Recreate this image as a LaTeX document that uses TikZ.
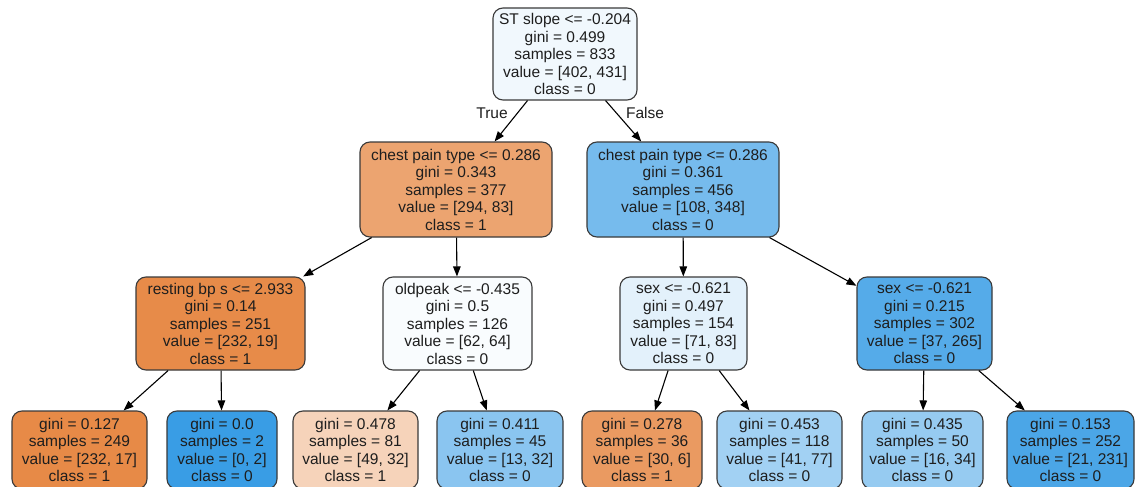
\documentclass[tikz,border=0pt]{standalone}
\usepackage{fontspec}
\setmainfont{Liberation Sans}
\usetikzlibrary{arrows.meta}
\definecolor{cO}{HTML}{E58139}
\definecolor{cB}{HTML}{399DE5}
\definecolor{txt}{HTML}{1E1E1E}
\definecolor{bord}{HTML}{3A3A3A}
\tikzset{
  tnode/.style={draw=bord, line width=1.1pt, rounded corners=10pt, align=center,
    inner sep=0pt, text=txt, font=\fontsize{15.5}{17.5}\selectfont, minimum height=93pt},
  leaf/.style={tnode, minimum height=78pt},
  edge/.style={line width=1.1pt, -{Triangle[length=10pt,width=7.5pt]}},
  elabel/.style={text=txt, font=\fontsize{15.5}{17.5}\selectfont}
}
\begin{document}
\begin{tikzpicture}[x=1pt,y=-1pt]
\useasboundingbox[fill=white] (0,0) rectangle (1135,487);
% level 0
\node[tnode, fill=cB!7!white, minimum width=144pt, minimum height=92pt] (root) at (565,54)
  {ST slope <= -0.204\\gini = 0.499\\samples = 833\\value = [402, 431]\\class = 0};
% level 1
\node[tnode, fill=cO!72!white, minimum width=192pt, minimum height=95pt] (cl) at (456,189.5)
  {chest pain type <= 0.286\\gini = 0.343\\samples = 377\\value = [294, 83]\\class = 1};
\node[tnode, fill=cB!69!white, minimum width=192pt, minimum height=95pt] (cr) at (683,189.5)
  {chest pain type <= 0.286\\gini = 0.361\\samples = 456\\value = [108, 348]\\class = 0};
% level 2
\node[tnode, fill=cO!92!white, minimum width=169pt] (rb) at (220.5,323.5)
  {resting bp s <= 2.933\\gini = 0.14\\samples = 251\\value = [232, 19]\\class = 1};
\node[tnode, fill=cB!3!white, minimum width=149pt] (op) at (457.5,323.5)
  {oldpeak <= -0.435\\gini = 0.5\\samples = 126\\value = [62, 64]\\class = 0};
\node[tnode, fill=cB!14!white, minimum width=127pt] (s1) at (683.5,323.5)
  {sex <= -0.621\\gini = 0.497\\samples = 154\\value = [71, 83]\\class = 0};
\node[tnode, fill=cB!86!white, minimum width=135pt] (s2) at (924.5,323.5)
  {sex <= -0.621\\gini = 0.215\\samples = 302\\value = [37, 265]\\class = 0};
% leaves
\node[leaf, fill=cO!93!white, minimum width=135pt] (l1) at (79.5,450)
  {gini = 0.127\\samples = 249\\value = [232, 17]\\class = 1};
\node[leaf, fill=cB, minimum width=110pt] (l2) at (222,450)
  {gini = 0.0\\samples = 2\\value = [0, 2]\\class = 0};
\node[leaf, fill=cO!35!white, minimum width=125pt] (l3) at (355.5,450)
  {gini = 0.478\\samples = 81\\value = [49, 32]\\class = 1};
\node[leaf, fill=cB!59!white, minimum width=126pt] (l4) at (500,450)
  {gini = 0.411\\samples = 45\\value = [13, 32]\\class = 0};
\node[leaf, fill=cO!80!white, minimum width=120pt] (l5) at (642,450)
  {gini = 0.278\\samples = 36\\value = [30, 6]\\class = 1};
\node[leaf, fill=cB!47!white, minimum width=125pt] (l6) at (779.5,450)
  {gini = 0.453\\samples = 118\\value = [41, 77]\\class = 0};
\node[leaf, fill=cB!53!white, minimum width=121pt] (l7) at (922.5,450)
  {gini = 0.435\\samples = 50\\value = [16, 34]\\class = 0};
\node[leaf, fill=cB!91!white, minimum width=127pt] (l8) at (1070.5,450)
  {gini = 0.153\\samples = 252\\value = [21, 231]\\class = 0};
% edges
\draw[edge] (root) -- (cl);
\draw[edge] (root) -- (cr);
\draw[edge] (cl) -- (rb);
\draw[edge] (cl) -- (op);
\draw[edge] (cr) -- (s1);
\draw[edge] (cr) -- (s2);
\draw[edge] (rb) -- (l1);
\draw[edge] (rb) -- (l2);
\draw[edge] (op) -- (l3);
\draw[edge] (op) -- (l4);
\draw[edge] (s1) -- (l5);
\draw[edge] (s1) -- (l6);
\draw[edge] (s2) -- (l7);
\draw[edge] (s2) -- (l8);
% edge labels
\node[elabel] (tl) at (492,113) {True};
\node[elabel] (fl) at (645,113) {False};
\end{tikzpicture}
\end{document}
